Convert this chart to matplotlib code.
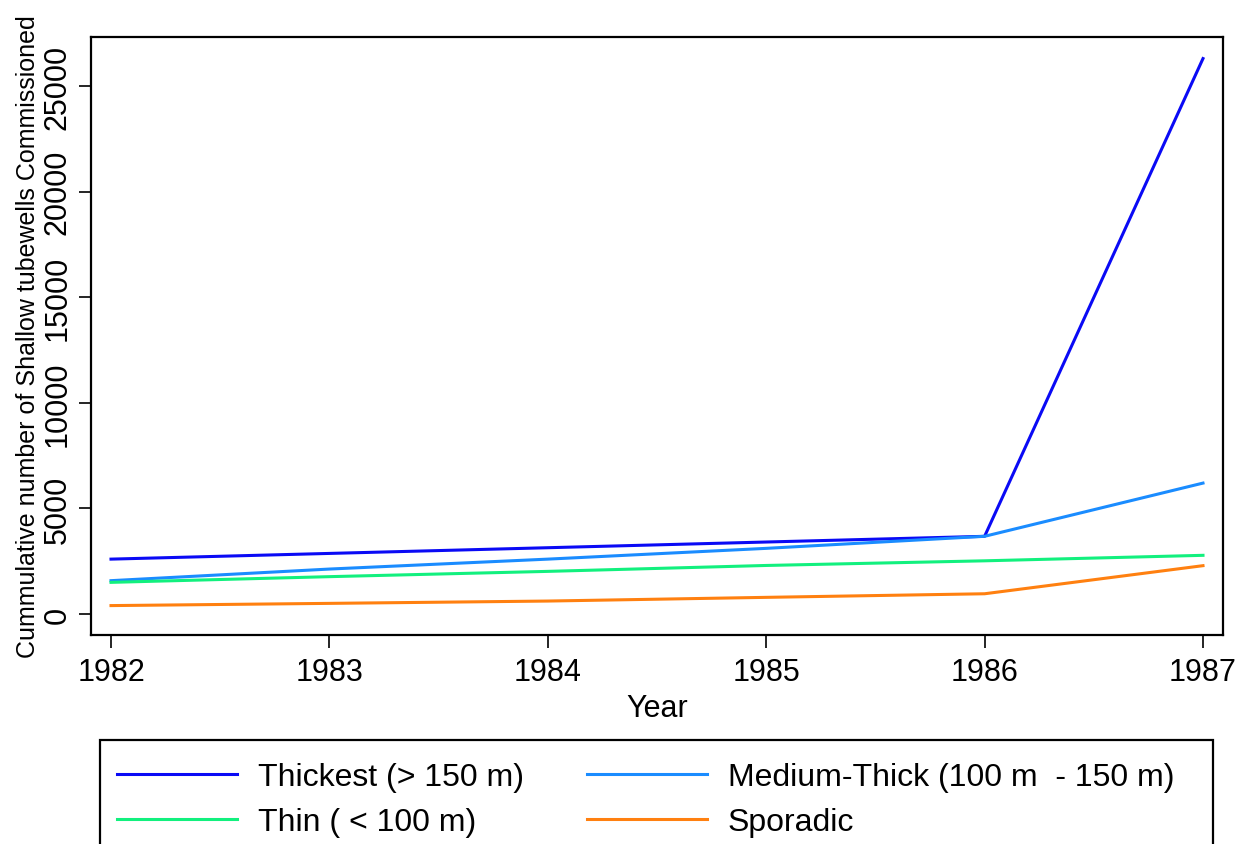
import numpy as np
import matplotlib.pyplot as plt
from matplotlib.patches import Rectangle

plt.rcParams['font.family'] = ['Liberation Sans', 'DejaVu Sans']

years = [1982, 1983, 1984, 1985, 1986, 1987]
thickest = [2600, 2870, 3140, 3410, 3680, 26300]
medium = [1580, 2130, 2600, 3110, 3680, 6200]
thin = [1500, 1770, 2020, 2300, 2520, 2780]
sporadic = [400, 505, 615, 790, 960, 2290]

labels = ["Thickest (> 150 m)", "Medium-Thick (100 m  - 150 m)",
          "Thin ( < 100 m)", "Sporadic"]
colors = ["#0A0AF5", "#1A8CFF", "#12F07E", "#FF8010"]

fig = plt.figure(figsize=(12.5, 8.45), dpi=100)
ax = fig.add_axes([0.0728, 0.2473, 0.9056, 0.7077])

series = [thickest, medium, thin, sporadic]
handles = []
for s, c in zip(series, colors):
    h, = ax.plot(years, s, color=c, lw=2.2)
    handles.append(h)

ax.set_xlim(1982 - 0.0916, 1987 + 0.0916)
ax.set_ylim(-994, 27320)
ax.set_xticks(years)
ax.set_yticks(np.arange(0, 25001, 5000))
ax.set_yticklabels([str(v) for v in range(0, 25001, 5000)], rotation=90, va='center')
ax.tick_params(labelsize=22, length=9, width=1.2, direction='out', pad=7)
ax.tick_params(axis='y', pad=4)
for sp in ax.spines.values():
    sp.set_linewidth(1.6)

ax.set_xlabel("Year", fontsize=22, labelpad=4)
ax.set_ylabel("Cummulative number of Shallow tubewells Commissioned", fontsize=18, labelpad=2)

# legend box runs off the bottom of the figure, so draw the frame by hand
fig.patches.append(Rectangle((100 / 1250, -0.05), 1113 / 1250, 1 - 741 / 845 + 0.05,
                             transform=fig.transFigure, fill=False,
                             edgecolor='black', lw=1.6))
order = [0, 2, 1, 3]
leg = fig.legend([handles[i] for i in order], [labels[i] for i in order],
                 ncol=2, loc='upper left',
                 bbox_to_anchor=(117 / 1250, 1 - 763 / 845),
                 borderaxespad=0, borderpad=0, frameon=False, fontsize=23,
                 handlelength=3.75, handletextpad=0.65,
                 labelspacing=0.47, columnspacing=2.0)

fig.savefig("out.png", dpi=100)
